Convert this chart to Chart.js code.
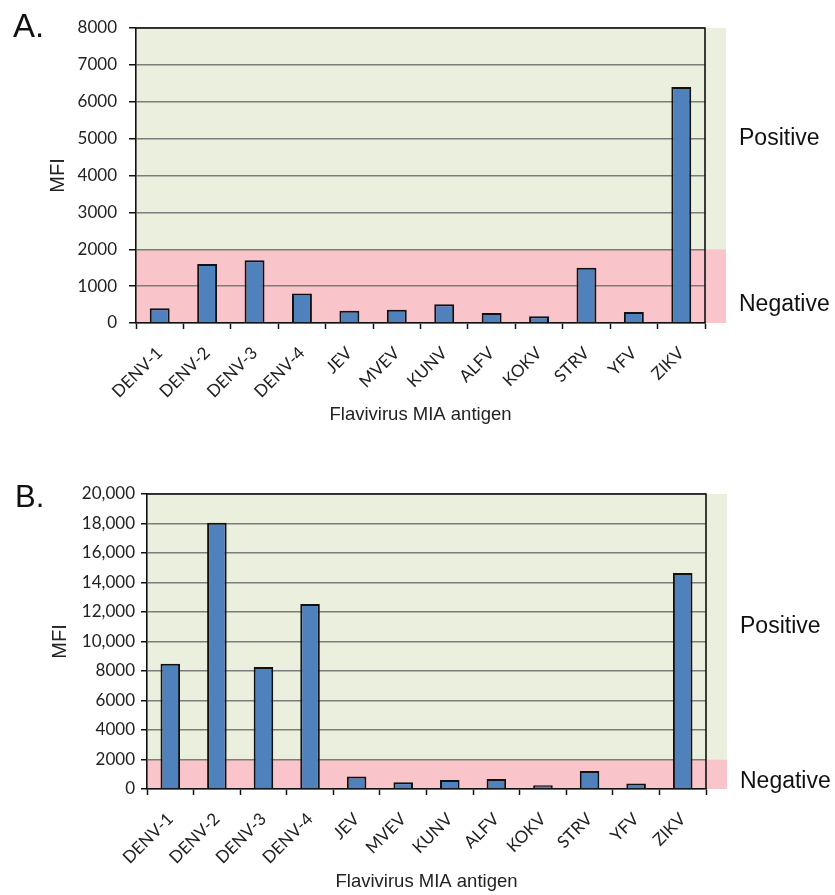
<!DOCTYPE html>
<html>
<head>
<meta charset="utf-8">
<script src="https://cdn.jsdelivr.net/npm/chart.js@4.4.0/dist/chart.umd.min.js"></script>
<style>
  body { margin: 0; background: #fff; }
  #wrap { position: relative; width: 835px; height: 895px; }
  canvas { position: absolute; left: 0; }
</style>
</head>
<body>
<div id="wrap">
  <canvas id="chartA" width="835" height="447" style="top:0"></canvas>
  <canvas id="chartB" width="835" height="448" style="top:447px"></canvas>
</div>
<script>
// flavivirus antigens on the x axis
let categories = ['DENV-1', 'DENV-2', 'DENV-3', 'DENV-4', 'JEV', 'MVEV', 'KUNV', 'ALFV', 'KOKV', 'STRV', 'YFV', 'ZIKV'];

// MFI readings, panel A and panel B
let mfiA = [400, 1600, 1700, 800, 330, 360, 510, 270, 180, 1500, 300, 6400];
let mfiB = [8500, 18050, 8270, 12550, 850, 450, 610, 680, 250, 1220, 380, 14650];

// positive / negative cutoff
let cutoff = 2000;

let xTitle = 'Flavivirus MIA antigen';
let yTitle = 'MFI';

let barBlue = '#4F81BD';
let greenBg = '#EBF0DE';
let pinkBg = '#F9C5CA';

let bandsPlugin = {
    id: 'bands',
    beforeDraw(chart, args, o) {
        let ctx = chart.ctx;
        let area = chart.chartArea;
        let y = chart.scales.y;
        let right = area.right + o.extra;
        let yTop = y.getPixelForValue(y.max);
        let yCut = y.getPixelForValue(cutoff);
        let yZero = y.getPixelForValue(0);
        ctx.save();
        ctx.fillStyle = greenBg;
        ctx.fillRect(area.left, yTop, right - area.left, yCut - yTop);
        ctx.fillStyle = pinkBg;
        ctx.fillRect(area.left, yCut, right - area.left, yZero - yCut);
        ctx.restore();
    },
    afterDatasetsDraw(chart) {
        // box lines on top and right of plot
        let ctx = chart.ctx;
        let a = chart.chartArea;
        ctx.save();
        ctx.strokeStyle = '#111';
        ctx.lineWidth = 1.6;
        ctx.beginPath();
        ctx.moveTo(a.left, a.top);
        ctx.lineTo(a.right, a.top);
        ctx.lineTo(a.right, a.bottom);
        ctx.stroke();
        ctx.restore();
    },
    afterDraw(chart, args, o) {
        let ctx = chart.ctx;
        let y = chart.scales.y;
        let a = chart.chartArea;
        ctx.save();
        ctx.fillStyle = '#111';
        ctx.textAlign = 'left';
        ctx.textBaseline = 'alphabetic';
        ctx.font = o.letterSize + 'px "Liberation Sans", Arial, sans-serif';
        ctx.fillText(o.letter, o.letterX, o.letterY);

        ctx.font = '23px "Liberation Sans", Arial, sans-serif';
        ctx.textBaseline = 'middle';
        let lx = a.right + o.extra + 13;
        ctx.fillText('Positive', lx, y.getPixelForValue((y.max + cutoff) / 2));
        ctx.fillText('Negative', lx, y.getPixelForValue(500));
        ctx.restore();
    }
};

function makeChart(id, values, o) {
    return new Chart(document.getElementById(id), {
        type: 'bar',
        data: {
            labels: categories,
            datasets: [{
                data: values,
                backgroundColor: barBlue,
                borderColor: '#111',
                borderWidth: 2,
                categoryPercentage: 1,
                barPercentage: 0.42
            }]
        },
        options: {
            responsive: false,
            animation: false,
            devicePixelRatio: 1,
            layout: { padding: { top: o.top, right: o.right, left: 0, bottom: 0 } },
            plugins: {
                legend: { display: false },
                tooltip: { enabled: false },
                bands: {
                    extra: 21,
                    letter: o.letter,
                    letterX: o.letterX,
                    letterY: o.letterY,
                    letterSize: o.letterSize
                }
            },
            scales: {
                x: {
                    grid: { offset: true, drawOnChartArea: false, tickLength: 6, tickColor: '#111', tickWidth: 1.5 },
                    border: { color: '#111', width: 1.6 },
                    ticks: {
                        maxRotation: 45, minRotation: 45, padding: o.xPad,
                        color: '#222', font: { family: 'Lato', size: 17 }
                    },
                    title: {
                        display: true, text: xTitle, color: '#222',
                        font: { family: 'Liberation Sans', size: 18.5 },
                        padding: { top: 0, bottom: o.xTitlePad }
                    },
                    afterFit(s) { s.height = o.xHeight; }
                },
                y: {
                    min: 0,
                    max: o.max,
                    ticks: {
                        stepSize: o.step, padding: o.yPad, color: '#222',
                        font: { family: 'Lato', size: 17 },
                        callback: v => v >= 10000 ? v.toLocaleString('en-US') : String(v)
                    },
                    grid: { color: '#7c7c7c', lineWidth: 1.5, tickColor: '#111', tickLength: o.yTick },
                    border: { color: '#111', width: 1.6 },
                    title: {
                        display: true, text: yTitle, color: '#222',
                        font: { family: 'Liberation Sans', size: 20 },
                        padding: { top: o.yTitlePad, bottom: 0 }
                    },
                    afterFit(s) { s.width = o.yWidth; }
                }
            }
        },
        plugins: [bandsPlugin]
    });
}

makeChart('chartA', mfiA, {
    top: 28, right: 130, xHeight: 124, yWidth: 136, max: 8000, step: 1000,
    xPad: 14, xTitlePad: 21, yPad: 12, yTick: 7, yTitlePad: 46,
    letter: 'A.', letterX: 13, letterY: 37, letterSize: 33
});

makeChart('chartB', mfiB, {
    top: 47, right: 129, xHeight: 106, yWidth: 147, max: 20000, step: 2000,
    xPad: 14, xTitlePad: 2, yPad: 6, yTick: 6, yTitlePad: 48,
    letter: 'B.', letterX: 15, letterY: 60, letterSize: 31
});
</script>
</body>
</html>
